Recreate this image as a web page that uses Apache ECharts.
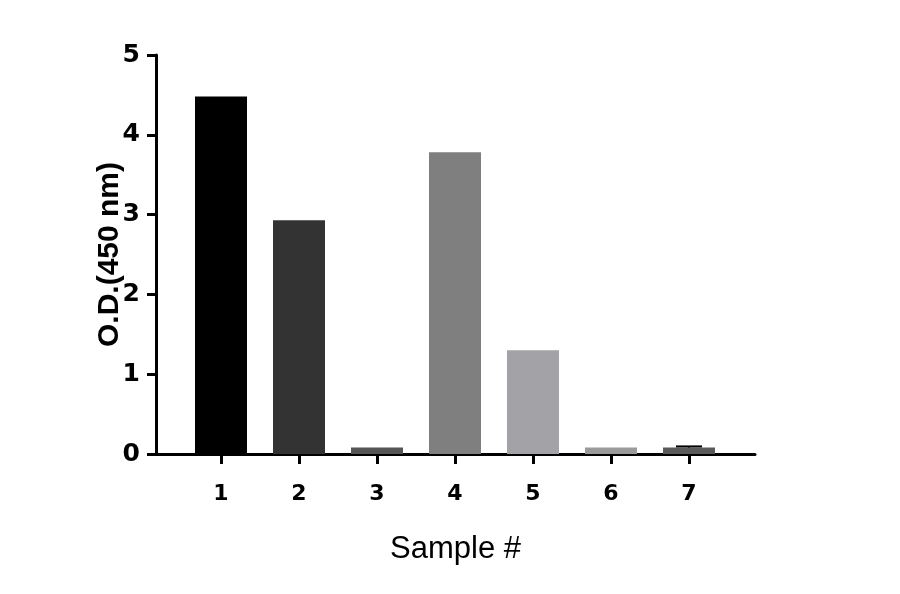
<!DOCTYPE html>
<html>
<head>
<meta charset="utf-8">
<script src="https://cdn.jsdelivr.net/npm/echarts@6/dist/echarts.min.js"></script>
<style>
html,body{margin:0;padding:0;background:#fff;}
#c{width:900px;height:594px;}
</style>
</head>
<body>
<div id="c"></div>
<script>
const categories = ['1','2','3','4','5','6','7'];
const odValues = [4.48, 2.93, 0.08, 3.78, 1.30, 0.08, 0.08];
const errorUpper = [null, null, null, null, null, null, 0.095];
const barColors = ['#000000','#333333','#555555','#7f7f7f','#a2a2a7','#9a9a9a','#5a5a5a'];
const yTicks = [0,1,2,3,4,5];

const positions = categories.map((c, i) => i + 1);

const barData = odValues.map((v, i) => ({
  value: [positions[i], v],
  itemStyle: { color: barColors[i] }
}));
const errData = [];
errorUpper.forEach((e, i) => { if (e != null) errData.push([positions[i], odValues[i], e]); });

const chart = echarts.init(document.getElementById('c'), null, {renderer:'canvas'});
chart.setOption({
  animation: false,
  backgroundColor: '#ffffff',
  grid: { left: 156, right: 145, top: 55, bottom: 140, containLabel: false },
  xAxis: {
    type: 'value',
    min: 1 - 65/78,
    max: 7 + 66/78,
    name: 'Sample #',
    nameLocation: 'middle',
    nameGap: 80,
    nameMoveOverlap: false,
    nameTextStyle: { fontFamily: 'Liberation Sans', fontSize: 31, color: '#000' },
    axisLine: { show: true, onZero: false, lineStyle: { color: '#000', width: 3 } },
    axisTick: { show: true, length: 10, lineStyle: { color: '#000', width: 3 }, customValues: positions },
    axisLabel: {
      customValues: positions,
      formatter: v => categories[Math.round(v) - 1],
      margin: 29, fontFamily: 'DejaVu Sans', fontWeight: 'bold', fontSize: 22, color: '#000'
    },
    splitLine: { show: false }
  },
  yAxis: {
    type: 'value',
    min: 0, max: 5, interval: 1,
    name: 'O.D.(450 nm)',
    nameLocation: 'middle',
    nameGap: 31,
    nameMoveOverlap: false,
    nameTextStyle: { fontFamily: 'Liberation Sans', fontWeight: 'bold', fontSize: 30, color: '#000' },
    axisLine: { show: true, lineStyle: { color: '#000', width: 3 } },
    axisTick: { show: true, length: 9, lineStyle: { color: '#000', width: 3 } },
    axisLabel: {
      formatter: v => yTicks.includes(v) ? String(v) : '',
      margin: 16, fontFamily: 'DejaVu Sans', fontWeight: 'bold', fontSize: 25, color: '#000'
    },
    splitLine: { show: false }
  },
  series: [
    {
      type: 'bar',
      barWidth: 52,
      data: barData,
      z: 2
    },
    {
      type: 'custom',
      z: 3,
      renderItem: function (params, api) {
        const x = api.value(0);
        const base = api.coord([x, api.value(1)]);
        const top = api.coord([x, api.value(2)]);
        const half = 13;
        return {
          type: 'group',
          children: [
            { type: 'line', shape: { x1: base[0], y1: base[1], x2: top[0], y2: top[1] }, style: { stroke: '#000', lineWidth: 2 } },
            { type: 'line', shape: { x1: top[0] - half, y1: top[1], x2: top[0] + half, y2: top[1] }, style: { stroke: '#000', lineWidth: 2 } }
          ]
        };
      },
      data: errData
    }
  ]
});
</script>
</body>
</html>
